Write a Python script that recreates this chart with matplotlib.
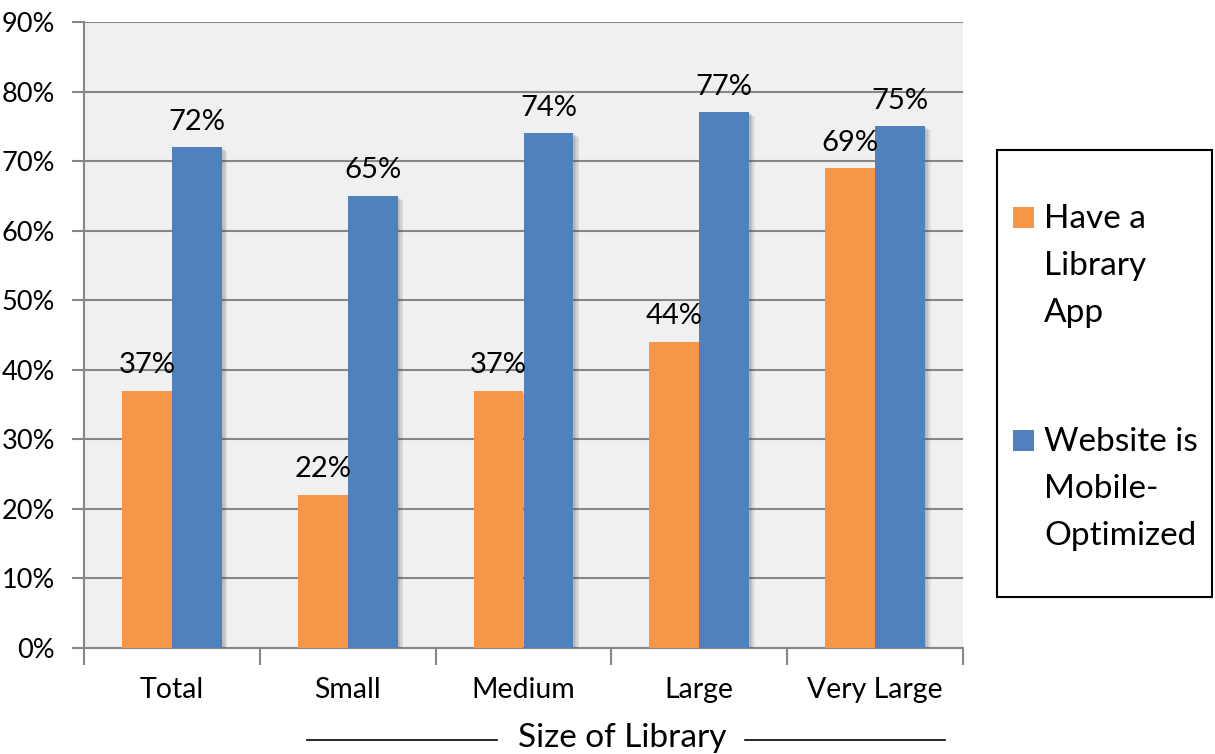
import matplotlib
matplotlib.use("Agg")
import matplotlib.pyplot as plt
import matplotlib.patheffects as pe
from matplotlib.lines import Line2D
from matplotlib.patches import Rectangle
import numpy as np

categories = ["Total", "Small", "Medium", "Large", "Very Large"]
have_app = [37, 22, 37, 44, 69]
mobile_site = [72, 65, 74, 77, 75]
series_names = [["Have a", "Library", "App"], ["Website is", "Mobile-", "Optimized"]]
yticks = [0, 10, 20, 30, 40, 50, 60, 70, 80, 90]

ORANGE = "#F79646"
BLUE = "#4F81BD"
GRID = "#878787"

plt.rcParams["font.family"] = ["Lato", "DejaVu Sans"]

W, H = 1215, 754
fig = plt.figure(figsize=(W / 100, H / 100), dpi=100)
ax = fig.add_axes([84 / W, 106 / H, 879 / W, 626 / H])
ax.set_facecolor("#F0F0F0")

x = np.arange(len(categories))
w = 0.284
# soft drop shadow built from a few faint offset copies
shadow = [pe.SimplePatchShadow(offset=(d, -d * 0.7), shadow_rgbFace="#404040", alpha=0.09)
          for d in (1, 2, 3, 4)] + [pe.Normal()]
b1 = ax.bar(x - w / 2, have_app, w, color=ORANGE, zorder=3, path_effects=shadow)
b2 = ax.bar(x + w / 2, mobile_site, w, color=BLUE, zorder=3, path_effects=shadow)

for bars, vals in ((b1, have_app), (b2, mobile_site)):
    for r, v in zip(bars, vals):
        ax.annotate(f"{v}%", (r.get_x() + r.get_width() / 2, v), xytext=(0, 9),
                    textcoords="offset points", ha="center", va="bottom",
                    fontsize=21, zorder=5)

ax.set_xlim(-0.5, len(categories) - 0.5)
ax.set_ylim(0, 90)
ax.set_yticks(yticks)
ax.set_yticklabels([f"{t}%" for t in yticks], fontsize=19.5)
ax.yaxis.grid(True, color=GRID, linewidth=1.5, zorder=0)
ax.set_axisbelow(True)

ax.set_xticks(x)
ax.set_xticklabels(categories, fontsize=20.5)
ax.tick_params(axis="x", which="major", length=0, pad=21)
ax.set_xticks(np.arange(len(categories) + 1) - 0.5, minor=True)
ax.tick_params(axis="x", which="minor", length=12, color=GRID, width=1.5)
ax.tick_params(axis="y", length=9, color=GRID, width=1.5, pad=12)

for s in ("top", "right"):
    ax.spines[s].set_visible(False)
for s in ("left", "bottom"):
    ax.spines[s].set_color(GRID)
    ax.spines[s].set_linewidth(1.5)

# axis title flanked by rules
fig.text(622 / W, 1 - 738 / H, "Size of Library", ha="center", va="center", fontsize=24)
for x0, x1 in ((307, 497), (745, 945)):
    fig.add_artist(Line2D([x0 / W, x1 / W], [1 - 740 / H] * 2, color="black", lw=1.2))

# legend box with top-aligned swatches
fig.add_artist(Rectangle((997 / W, 1 - 597 / H), 215 / W, 447 / H, transform=fig.transFigure,
                         facecolor="white", edgecolor="black", lw=1.5))
for color, lines, top in ((ORANGE, series_names[0], 207), (BLUE, series_names[1], 430)):
    fig.add_artist(Rectangle((1013 / W, 1 - (top + 21) / H), 21 / W, 21 / H,
                             transform=fig.transFigure, facecolor=color, edgecolor="none"))
    for k, line in enumerate(lines):
        fig.text(1044 / W, 1 - (top + 21 + 47 * k) / H, line, ha="left", va="baseline",
                 fontsize=24)

fig.savefig("out.png", dpi=100)
